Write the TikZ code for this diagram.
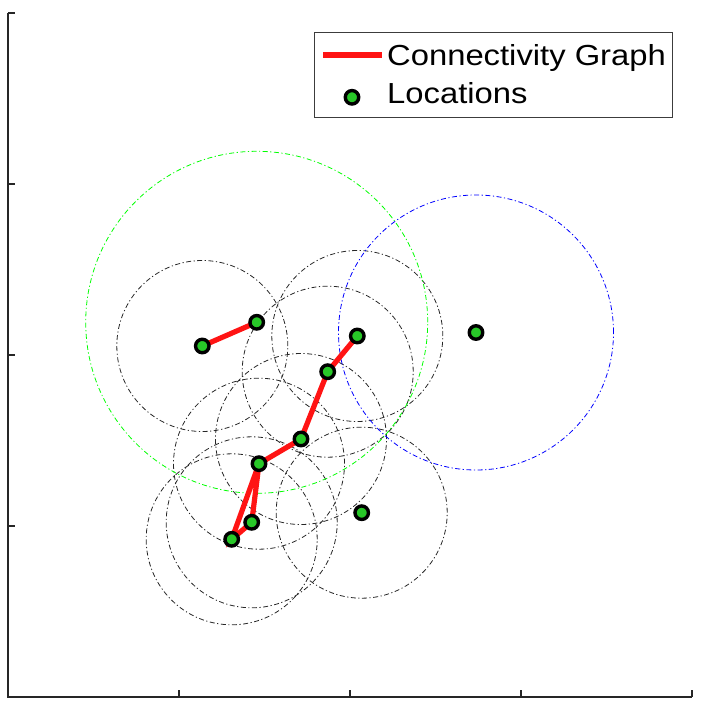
\documentclass[tikz,border=0pt]{standalone}
\usepackage{fontspec}
\setmainfont{Liberation Sans}
\begin{document}
\begin{tikzpicture}[x=1pt,y=-1pt,
  axisline/.style={draw={rgb,255:red,38;green,38;blue,38},line width=1.1pt},
  rangeblack/.style={draw=black!85,line width=0.8pt,dash pattern=on 5pt off 2.5pt on 1.2pt off 2.5pt},
  rangegreen/.style={draw={rgb,255:red,0;green,255;blue,0},line width=0.8pt,dash pattern=on 5pt off 2.5pt on 1.2pt off 2.5pt},
  rangeblue/.style={draw={rgb,255:red,0;green,0;blue,255},line width=0.8pt,dash pattern=on 5pt off 2.5pt on 1.2pt off 2.5pt},
  edge/.style={draw={rgb,255:red,255;green,20;blue,20},line width=5.2pt},
  loc/.style={circle,fill={rgb,255:red,40;green,200;blue,40},draw=black,line width=3.4pt,minimum size=13.5pt,inner sep=0pt},
  legtext/.style={anchor=base west,inner sep=0pt,font=\fontsize{29}{32}\selectfont}
]
\useasboundingbox (0,0) rectangle (704,708);
% axes
\draw[axisline] (8,13) -- (8,697) -- (692,697);
\foreach \yy in {13,184,355,526} \draw[axisline] (8,\yy) -- (15,\yy);
\foreach \xx in {179,350,521,692} \draw[axisline] (\xx,697) -- (\xx,690);
% locations
\coordinate (p1) at (202.3,346);
\coordinate (p2) at (256.7,322.3);
\coordinate (p3) at (357.3,336);
\coordinate (p4) at (327.7,371.7);
\coordinate (p5) at (301,439);
\coordinate (p6) at (259,463.7);
\coordinate (p7) at (251.7,522.3);
\coordinate (p8) at (231.7,539.3);
\coordinate (p9) at (361.7,512.7);
\coordinate (p10) at (476,332.5);
% ranges
\foreach \p in {p1,p3,p4,p5,p6,p7,p8,p9} \draw[rangeblack] (\p) circle[radius=85.5pt];
\draw[rangegreen] (p2) circle[radius=171pt];
\draw[rangeblue] (p10) circle[radius=137.5pt];
% graph
\draw[edge] (p1) -- (p2);
\draw[edge] (p3) -- (p4) -- (p5) -- (p6) -- (p7) -- (p8) -- (p6);
% markers
\foreach \p in {p1,p2,p3,p4,p5,p6,p7,p8,p9,p10} \node[loc] (m\p) at (\p) {};
% legend
\node[draw={rgb,255:red,60;green,60;blue,60},line width=0.9pt,fill=white,minimum width=358pt,minimum height=85pt,inner sep=0pt] (legbox) at (493.3,74.8) {};
\coordinate (la) at (323,55);
\coordinate (lb) at (382,55);
\draw[edge] (la) -- (lb);
\node[loc] (legmark) at (352,97.3) {};
\node[legtext] (t1) at (387,65.7) {\scalebox{1.13}[1]{Connectivity Graph}};
\node[legtext] (t2) at (387,104) {\scalebox{1.13}[1]{Locations}};
\end{tikzpicture}
\end{document}
